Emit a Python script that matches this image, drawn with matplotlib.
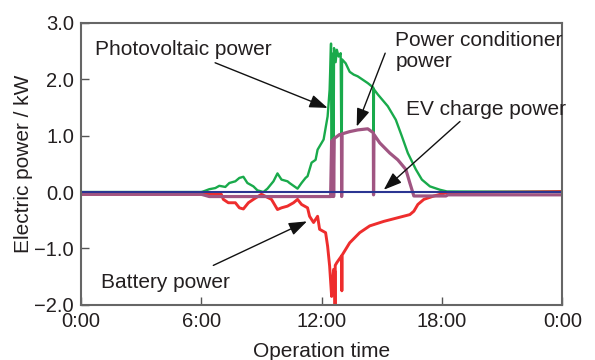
import matplotlib.pyplot as plt

# photovoltaic power (hour, kW)
pv_h = [0.0, 6.0, 6.1, 6.4, 6.7, 6.9, 7.2, 7.4, 7.7, 7.9, 8.1, 8.3, 8.6, 8.8, 9.1, 9.3,
        9.6, 9.8, 10.0, 10.3, 10.4, 10.8, 11.0, 11.2, 11.3, 11.5, 11.7, 11.8, 12.1, 12.3,
        12.4, 12.47, 12.51, 12.53, 12.57, 12.59, 12.62, 12.7, 12.76, 12.85, 12.95, 13.0,
        13.02, 13.2, 13.4, 13.6, 13.8, 14.3, 14.58, 14.59, 14.61, 14.8, 15.3, 15.7, 16.0,
        16.3, 16.7, 17.0, 17.4, 17.9, 18.25, 24.0]
pv_kw = [0.0, 0.0, 0.01, 0.05, 0.07, 0.11, 0.09, 0.16, 0.19, 0.25, 0.27, 0.16, 0.10, 0.03,
         0.0, 0.06, 0.19, 0.33, 0.22, 0.19, 0.16, 0.06, 0.16, 0.25, 0.28, 0.52, 0.57, 0.75,
         0.93, 1.34, 1.81, 2.63, 0.05, 2.45, 2.0, 0.1, 2.55, 2.3, 2.52, 2.4, 2.46, 0.05,
         2.35, 2.28, 2.13, 2.08, 2.05, 1.93, 1.85, 0.02, 1.82, 1.73, 1.52, 1.28, 0.99, 0.69,
         0.40, 0.22, 0.10, 0.04, 0.01, 0.0]

# power conditioner power
pc_h = [0.0, 6.0, 6.4, 12.45, 12.5, 12.52, 12.55, 12.58, 12.6, 12.63, 12.75, 12.9, 12.99,
        13.0, 13.02, 13.4, 13.8, 14.3, 14.58, 14.59, 14.61, 14.9, 15.4, 15.8, 16.2, 16.4,
        16.6, 18.2, 18.3, 24.0]
pc_kw = [-0.04, -0.04, -0.08, -0.08, 0.9, -0.08, 0.92, 0.88, -0.08, 0.95, 0.98, 1.02, 1.0,
         -0.08, 1.03, 1.07, 1.1, 1.12, 1.05, -0.05, 1.02, 0.87, 0.69, 0.57, 0.40, 0.16,
         -0.07, -0.07, -0.05, -0.05]

# battery power
bat_h = [0.0, 7.0, 7.1, 7.35, 7.7, 7.9, 8.1, 8.35, 8.6, 9.0, 9.5, 9.8, 10.0, 10.3, 10.6,
         10.8, 11.0, 11.3, 11.4, 11.6, 11.8, 11.9, 12.2, 12.3, 12.4, 12.5, 12.55, 12.6,
         12.66, 12.67, 12.68, 12.76, 13.0, 13.01, 13.02, 13.4, 13.9, 14.4, 15.1, 15.75,
         16.4, 16.6, 16.8, 17.1, 17.6, 18.25, 24.0]
bat_kw = [-0.04, -0.04, -0.13, -0.19, -0.19, -0.28, -0.30, -0.19, -0.13, -0.04, -0.13,
          -0.31, -0.28, -0.25, -0.19, -0.13, -0.22, -0.28, -0.43, -0.54, -0.43, -0.66,
          -0.72, -0.96, -1.31, -1.85, -1.6, -1.37, -1.4, -2.0, -1.3, -1.25, -1.13, -1.75,
          -1.12, -0.90, -0.72, -0.60, -0.52, -0.46, -0.40, -0.34, -0.22, -0.13, -0.07,
          -0.01, 0.01]

# EV charge power
ev_h = [0.0, 24.0]
ev_kw = [0.0, 0.0]

xticks = [0, 6, 12, 18, 24]
xlabels = ['0:00', '6:00', '12:00', '18:00', '0:00']
yticks = [-2, -1, 0, 1, 2, 3]
ylabels = ['\u22122.0', '\u22121.0', '0.0', '1.0', '2.0', '3.0']

plt.rcParams['font.family'] = ['Liberation Sans', 'DejaVu Sans']
tc = '#231f20'

fig = plt.figure(figsize=(5.95, 3.6), dpi=100)
ax = fig.add_axes([0.136, 0.153, 0.809, 0.784])

ax.plot(bat_h, bat_kw, color='#ee2d2d', lw=2.1)
ax.plot(pv_h, pv_kw, color='#19aa4b', lw=1.7)
ax.plot(pc_h, pc_kw, color='#a05582', lw=2.3)
ax.plot(ev_h, ev_kw, color='#2b3592', lw=1.5)

ax.set_xlim(0, 24)
ax.set_ylim(-2, 3)
ax.set_xticks(xticks)
ax.set_xticklabels(xlabels)
ax.set_yticks(yticks)
ax.set_yticklabels(ylabels)
ax.tick_params(direction='in', length=6, width=1, color='#555555', labelsize=14.5,
               labelcolor=tc, pad=5)
for s in ax.spines.values():
    s.set_color('#666666')
    s.set_linewidth(1.5)
ax.set_xlabel('Operation time', fontsize=15, color=tc, labelpad=8)
ax.set_ylabel('Electric power / kW', fontsize=15, color=tc, labelpad=1)

ap = dict(arrowstyle='-|>,head_length=1.1,head_width=0.4', color='#111111', lw=1.0,
          mutation_scale=10, shrinkA=0, shrinkB=0)
ax.annotate('', xy=(12.3, 1.49), xytext=(6.69, 2.29), arrowprops=ap)
ax.text(0.7, 2.52, 'Photovoltaic power', fontsize=15, color=tc, va='center', ha='left')
ax.annotate('', xy=(13.75, 1.16), xytext=(15.17, 2.46), arrowprops=ap)
ax.text(15.67, 2.5, 'Power conditioner\npower', fontsize=15, color=tc,
        va='center', ha='left', linespacing=1.12)
ax.annotate('', xy=(15.1, 0.04), xytext=(18.9, 1.25), arrowprops=ap)
ax.text(16.2, 1.47, 'EV charge power', fontsize=15, color=tc, va='center', ha='left')
ax.annotate('', xy=(11.27, -0.52), xytext=(6.6, -1.3), arrowprops=ap)
ax.text(1.0, -1.6, 'Battery power', fontsize=15, color=tc, va='center', ha='left')

fig.savefig('out.png', dpi=100)
